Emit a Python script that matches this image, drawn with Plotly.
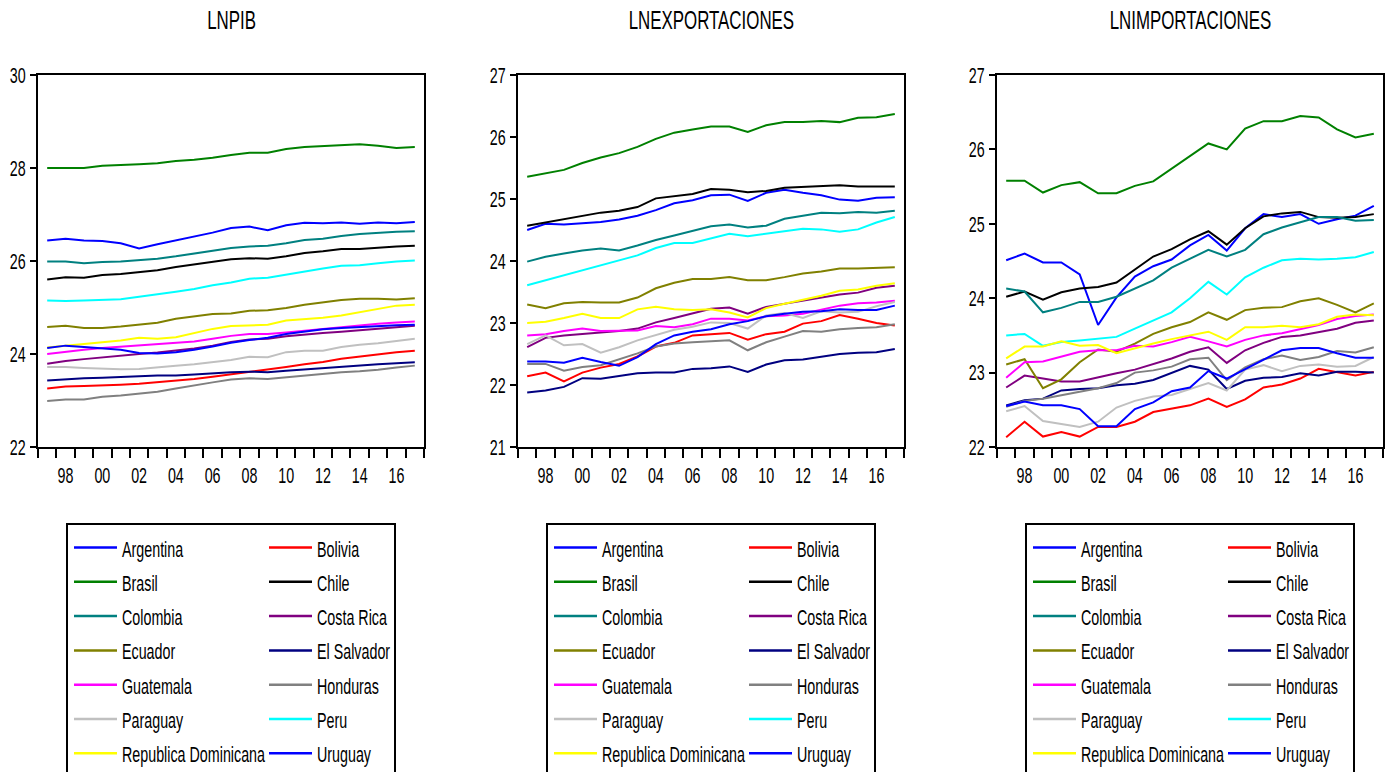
import plotly.graph_objects as go

# ---------------- data ----------------
years = list(range(1997, 2018))
tick_years = [1998, 2000, 2002, 2004, 2006, 2008, 2010, 2012, 2014, 2016]
tick_labels = ["98", "00", "02", "04", "06", "08", "10", "12", "14", "16"]

countries = ["Argentina", "Bolivia", "Brasil", "Chile", "Colombia", "Costa Rica",
             "Ecuador", "El Salvador", "Guatemala", "Honduras", "Paraguay", "Peru",
             "Republica Dominicana", "Uruguay"]
colors = ["#0000FF", "#FF0000", "#008000", "#000000", "#008080", "#800080",
          "#808000", "#000080", "#FF00FF", "#808080", "#C0C0C0", "#00FFFF",
          "#FFFF00", "#0000FF"]

panel_titles = ["LNPIB", "LNEXPORTACIONES", "LNIMPORTACIONES"]
y_ranges = [[22, 30], [21, 27], [22, 27]]
y_dticks = [2, 1, 1]

# LNPIB
pib_argentina = [26.44, 26.48, 26.44, 26.43, 26.38, 26.27, 26.36, 26.44, 26.53, 26.61, 26.71, 26.74, 26.66, 26.77, 26.82, 26.81, 26.83, 26.80, 26.83, 26.81, 26.84]
pib_bolivia = [23.26, 23.30, 23.31, 23.32, 23.34, 23.36, 23.39, 23.42, 23.46, 23.51, 23.56, 23.61, 23.66, 23.72, 23.78, 23.83, 23.90, 23.95, 24.00, 24.04, 24.07]
pib_brasil = [28.00, 28.00, 28.00, 28.05, 28.06, 28.08, 28.10, 28.15, 28.18, 28.22, 28.28, 28.33, 28.33, 28.41, 28.45, 28.47, 28.49, 28.51, 28.48, 28.43, 28.45]
pib_chile = [25.60, 25.65, 25.64, 25.70, 25.72, 25.76, 25.80, 25.87, 25.93, 25.99, 26.04, 26.06, 26.05, 26.10, 26.17, 26.21, 26.26, 26.26, 26.29, 26.31, 26.33]
pib_colombia = [25.99, 25.99, 25.95, 25.98, 25.99, 26.02, 26.05, 26.10, 26.16, 26.22, 26.28, 26.31, 26.33, 26.38, 26.45, 26.48, 26.54, 26.58, 26.61, 26.63, 26.64]
pib_costarica = [23.79, 23.85, 23.89, 23.93, 23.97, 24.00, 24.03, 24.07, 24.12, 24.18, 24.26, 24.31, 24.33, 24.38, 24.42, 24.45, 24.48, 24.51, 24.55, 24.58, 24.61]
pib_ecuador = [24.58, 24.61, 24.56, 24.56, 24.59, 24.63, 24.67, 24.76, 24.81, 24.86, 24.87, 24.93, 24.94, 24.99, 25.06, 25.11, 25.16, 25.19, 25.19, 25.17, 25.20]
pib_elsalvador = [23.43, 23.46, 23.48, 23.49, 23.50, 23.52, 23.54, 23.54, 23.56, 23.59, 23.61, 23.62, 23.61, 23.64, 23.67, 23.70, 23.73, 23.75, 23.78, 23.80, 23.82]
pib_guatemala = [24.00, 24.05, 24.09, 24.13, 24.16, 24.18, 24.21, 24.24, 24.27, 24.33, 24.39, 24.43, 24.43, 24.46, 24.50, 24.53, 24.57, 24.61, 24.65, 24.68, 24.70]
pib_honduras = [22.99, 23.02, 23.02, 23.08, 23.11, 23.15, 23.19, 23.26, 23.33, 23.39, 23.45, 23.48, 23.46, 23.50, 23.54, 23.58, 23.61, 23.63, 23.66, 23.71, 23.75]
pib_paraguay = [23.72, 23.72, 23.70, 23.68, 23.67, 23.68, 23.72, 23.75, 23.78, 23.83, 23.87, 23.94, 23.93, 24.04, 24.07, 24.07, 24.15, 24.20, 24.23, 24.28, 24.33]
pib_peru = [25.15, 25.14, 25.15, 25.17, 25.18, 25.23, 25.28, 25.34, 25.40, 25.48, 25.54, 25.62, 25.64, 25.71, 25.77, 25.84, 25.90, 25.91, 25.95, 25.99, 26.01]
pib_repdom = [24.14, 24.18, 24.22, 24.26, 24.29, 24.35, 24.33, 24.36, 24.45, 24.54, 24.60, 24.62, 24.63, 24.72, 24.75, 24.78, 24.83, 24.90, 24.98, 25.04, 25.06]
pib_uruguay = [24.13, 24.18, 24.15, 24.12, 24.09, 24.02, 24.01, 24.04, 24.09, 24.16, 24.24, 24.30, 24.35, 24.43, 24.48, 24.53, 24.56, 24.58, 24.61, 24.62, 24.63]

# LNEXPORTACIONES
exp_argentina = [24.50, 24.60, 24.59, 24.61, 24.63, 24.67, 24.73, 24.82, 24.93, 24.98, 25.06, 25.07, 24.97, 25.10, 25.15, 25.10, 25.06, 24.99, 24.97, 25.02, 25.03]
exp_bolivia = [22.14, 22.20, 22.06, 22.20, 22.28, 22.34, 22.46, 22.62, 22.68, 22.80, 22.82, 22.84, 22.73, 22.82, 22.86, 22.99, 23.03, 23.13, 23.07, 23.00, 22.96]
exp_brasil = [25.36, 25.41, 25.47, 25.58, 25.67, 25.74, 25.84, 25.97, 26.07, 26.12, 26.17, 26.17, 26.08, 26.19, 26.24, 26.24, 26.26, 26.24, 26.31, 26.32, 26.37]
exp_chile = [24.57, 24.62, 24.67, 24.72, 24.78, 24.81, 24.87, 25.01, 25.04, 25.08, 25.16, 25.15, 25.11, 25.13, 25.18, 25.19, 25.21, 25.22, 25.20, 25.20, 25.20]
exp_colombia = [23.99, 24.07, 24.12, 24.17, 24.20, 24.17, 24.25, 24.34, 24.41, 24.49, 24.56, 24.59, 24.54, 24.57, 24.68, 24.73, 24.78, 24.77, 24.79, 24.78, 24.81]
exp_costarica = [22.61, 22.76, 22.80, 22.82, 22.84, 22.87, 22.91, 23.01, 23.08, 23.15, 23.23, 23.25, 23.15, 23.26, 23.31, 23.37, 23.42, 23.46, 23.49, 23.57, 23.60]
exp_ecuador = [23.30, 23.24, 23.32, 23.34, 23.33, 23.33, 23.41, 23.56, 23.65, 23.71, 23.71, 23.74, 23.69, 23.69, 23.74, 23.80, 23.83, 23.88, 23.88, 23.89, 23.90]
exp_elsalvador = [21.88, 21.91, 21.97, 22.11, 22.10, 22.15, 22.19, 22.20, 22.20, 22.26, 22.27, 22.30, 22.21, 22.33, 22.40, 22.41, 22.46, 22.50, 22.52, 22.53, 22.58]
exp_guatemala = [22.80, 22.82, 22.87, 22.91, 22.87, 22.87, 22.88, 22.95, 22.93, 22.98, 23.07, 23.07, 23.04, 23.11, 23.12, 23.15, 23.22, 23.28, 23.32, 23.33, 23.36]
exp_honduras = [22.34, 22.34, 22.23, 22.29, 22.32, 22.41, 22.51, 22.62, 22.67, 22.69, 22.70, 22.72, 22.56, 22.69, 22.78, 22.87, 22.86, 22.90, 22.92, 22.93, 22.98]
exp_paraguay = [22.66, 22.80, 22.64, 22.66, 22.52, 22.61, 22.72, 22.80, 22.89, 22.94, 23.01, 23.00, 22.91, 23.12, 23.16, 23.08, 23.19, 23.17, 23.18, 23.27, 23.34]
exp_peru = [23.61, 23.69, 23.77, 23.85, 23.93, 24.01, 24.09, 24.21, 24.29, 24.29, 24.36, 24.44, 24.40, 24.44, 24.48, 24.52, 24.51, 24.47, 24.51, 24.62, 24.71]
exp_repdom = [23.00, 23.02, 23.08, 23.15, 23.08, 23.08, 23.22, 23.26, 23.22, 23.21, 23.22, 23.17, 23.09, 23.24, 23.31, 23.37, 23.44, 23.52, 23.54, 23.60, 23.64]
exp_uruguay = [22.38, 22.38, 22.36, 22.44, 22.37, 22.31, 22.45, 22.66, 22.80, 22.86, 22.90, 22.98, 23.03, 23.11, 23.15, 23.18, 23.19, 23.22, 23.21, 23.21, 23.28]

# LNIMPORTACIONES
imp_argentina = [24.51, 24.60, 24.48, 24.48, 24.32, 23.64, 24.01, 24.29, 24.43, 24.52, 24.71, 24.85, 24.64, 24.94, 25.13, 25.09, 25.13, 25.00, 25.06, 25.11, 25.24]
imp_bolivia = [22.13, 22.34, 22.14, 22.20, 22.14, 22.27, 22.27, 22.34, 22.47, 22.51, 22.56, 22.65, 22.54, 22.64, 22.80, 22.84, 22.92, 23.05, 23.01, 22.96, 23.01]
imp_brasil = [25.58, 25.58, 25.42, 25.52, 25.56, 25.41, 25.41, 25.51, 25.57, 25.74, 25.92, 26.08, 26.00, 26.28, 26.38, 26.38, 26.45, 26.43, 26.27, 26.16, 26.21]
imp_chile = [24.02, 24.09, 23.98, 24.08, 24.13, 24.15, 24.21, 24.39, 24.56, 24.66, 24.79, 24.90, 24.72, 24.94, 25.10, 25.14, 25.16, 25.09, 25.08, 25.09, 25.13]
imp_colombia = [24.13, 24.09, 23.81, 23.87, 23.95, 23.95, 24.02, 24.13, 24.24, 24.41, 24.53, 24.65, 24.56, 24.65, 24.86, 24.95, 25.02, 25.09, 25.09, 25.04, 25.05]
imp_costarica = [22.80, 22.96, 22.92, 22.88, 22.88, 22.94, 22.99, 23.04, 23.11, 23.19, 23.28, 23.34, 23.13, 23.30, 23.40, 23.48, 23.50, 23.55, 23.59, 23.67, 23.70]
imp_ecuador = [23.11, 23.18, 22.79, 22.91, 23.14, 23.31, 23.28, 23.39, 23.52, 23.61, 23.68, 23.81, 23.71, 23.84, 23.87, 23.88, 23.96, 24.00, 23.91, 23.81, 23.93]
imp_elsalvador = [22.56, 22.63, 22.65, 22.76, 22.78, 22.79, 22.83, 22.85, 22.90, 22.99, 23.09, 23.04, 22.78, 22.89, 22.93, 22.94, 22.99, 22.96, 23.01, 23.01, 23.00]
imp_guatemala = [22.93, 23.14, 23.15, 23.21, 23.28, 23.30, 23.30, 23.36, 23.35, 23.41, 23.48, 23.42, 23.35, 23.44, 23.50, 23.53, 23.59, 23.64, 23.72, 23.76, 23.78]
imp_honduras = [22.54, 22.62, 22.65, 22.70, 22.74, 22.79, 22.86, 23.00, 23.03, 23.08, 23.18, 23.20, 22.90, 23.07, 23.18, 23.23, 23.17, 23.21, 23.29, 23.27, 23.34]
imp_paraguay = [22.48, 22.55, 22.35, 22.31, 22.27, 22.34, 22.53, 22.62, 22.68, 22.70, 22.78, 22.86, 22.76, 23.04, 23.10, 23.02, 23.09, 23.11, 23.08, 23.09, 23.21]
imp_peru = [23.50, 23.52, 23.36, 23.41, 23.43, 23.45, 23.48, 23.59, 23.70, 23.81, 24.00, 24.22, 24.05, 24.28, 24.41, 24.51, 24.53, 24.52, 24.53, 24.55, 24.62]
imp_repdom = [23.19, 23.35, 23.35, 23.42, 23.36, 23.37, 23.26, 23.33, 23.39, 23.45, 23.50, 23.55, 23.44, 23.61, 23.61, 23.63, 23.61, 23.65, 23.75, 23.78, 23.77]
imp_uruguay = [22.55, 22.61, 22.56, 22.56, 22.51, 22.28, 22.28, 22.51, 22.60, 22.75, 22.80, 23.02, 22.92, 23.05, 23.18, 23.30, 23.33, 23.33, 23.26, 23.20, 23.20]

panel_series = [
    [pib_argentina, pib_bolivia, pib_brasil, pib_chile, pib_colombia, pib_costarica, pib_ecuador,
     pib_elsalvador, pib_guatemala, pib_honduras, pib_paraguay, pib_peru, pib_repdom, pib_uruguay],
    [exp_argentina, exp_bolivia, exp_brasil, exp_chile, exp_colombia, exp_costarica, exp_ecuador,
     exp_elsalvador, exp_guatemala, exp_honduras, exp_paraguay, exp_peru, exp_repdom, exp_uruguay],
    [imp_argentina, imp_bolivia, imp_brasil, imp_chile, imp_colombia, imp_costarica, imp_ecuador,
     imp_elsalvador, imp_guatemala, imp_honduras, imp_paraguay, imp_peru, imp_repdom, imp_uruguay],
]

# ---------------- layout geometry (pixels) ----------------
W, H = 1385, 772
FONT = "Liberation Sans, Arial, sans-serif"
LABEL_SIZE = 22
TITLE_SIZE = 26
panel_left = [38, 518, 997]
panel_width = 386
plot_top, plot_bottom = 75, 447


def px_x(p):
    return p / W


def px_y(p):
    return 1 - p / H


fig = go.Figure()
layout = dict(
    width=W, height=H, autosize=False,
    margin=dict(l=0, r=0, t=0, b=0, pad=0),
    paper_bgcolor="white", plot_bgcolor="white",
    showlegend=False,
    font=dict(family=FONT, size=LABEL_SIZE, color="black"),
)
shapes = []
annotations = []

for p in range(3):
    suffix = "" if p == 0 else str(p + 1)
    for c, name in enumerate(countries):
        fig.add_trace(go.Scatter(
            x=years, y=panel_series[p][c], mode="lines", name=name,
            line=dict(color=colors[c], width=2),
            xaxis="x" + suffix, yaxis="y" + suffix, showlegend=False,
            hoverinfo="skip",
        ))
    left = panel_left[p]
    layout["xaxis" + suffix] = dict(
        domain=[px_x(left), px_x(left + panel_width)],
        range=[1996.5, 2017.5], anchor="y" + suffix, automargin=False,
        tickmode="array", tickvals=tick_years, ticktext=tick_labels,
        ticks="", ticklabelstandoff=8,
        showline=True, linecolor="black", linewidth=2, mirror=True,
        showgrid=False, zeroline=False,
        tickfont=dict(family=FONT, size=LABEL_SIZE, color="black"),
        minor=dict(ticks="outside", tickmode="array",
                   tickvals=[1996.5 + k for k in range(22)],
                   ticklen=9, tickwidth=1.5, tickcolor="black", showgrid=False),
    )
    layout["yaxis" + suffix] = dict(
        domain=[px_y(plot_bottom), px_y(plot_top)],
        range=y_ranges[p], anchor="x" + suffix, dtick=y_dticks[p], automargin=False,
        ticks="outside", ticklen=6, tickwidth=1.5, tickcolor="black",
        showline=True, linecolor="black", linewidth=2, mirror=True,
        showgrid=False, zeroline=False,
        tickfont=dict(family=FONT, size=LABEL_SIZE, color="black"),
    )
    # panel title
    annotations.append(dict(
        x=px_x(left + panel_width / 2), y=px_y(20), xref="paper", yref="paper",
        text=panel_titles[p], showarrow=False, xanchor="center", yanchor="middle",
        font=dict(family=FONT, size=TITLE_SIZE, color="black"),
    ))
    # legend box
    bx = left + 29
    shapes.append(dict(type="rect", xref="paper", yref="paper",
                       x0=px_x(bx), x1=px_x(bx + 328), y0=px_y(524), y1=px_y(790),
                       line=dict(color="black", width=2), fillcolor="rgba(0,0,0,0)"))
    for c, name in enumerate(countries):
        row, col = c // 2, c % 2
        yy = 547.5 + 34.3 * row
        off = 0 if col == 0 else 195
        shapes.append(dict(type="line", xref="paper", yref="paper",
                           x0=px_x(bx + 7 + off), x1=px_x(bx + 50 + off),
                           y0=px_y(yy), y1=px_y(yy),
                           line=dict(color=colors[c], width=2.5)))
        annotations.append(dict(
            x=px_x(bx + 53 + off), y=px_y(yy + 1.5), xref="paper", yref="paper",
            text=name, showarrow=False, xanchor="left", yanchor="middle", align="left",
            font=dict(family=FONT, size=LABEL_SIZE, color="black"),
        ))

layout["shapes"] = shapes
layout["annotations"] = annotations
fig.update_layout(**layout)

# narrow the (tall) lettering horizontally, keeping each label's anchor fixed
post = """
document.body.style.margin='0';
document.querySelectorAll('.main-svg text').forEach(function(t){
  if(!t.textContent) return;
  var s = 0.65;
  var b = t.getBBox();
  var a = t.getAttribute('text-anchor') || 'start';
  var ax = (a === 'middle') ? b.x + b.width/2 : ((a === 'end') ? b.x + b.width : b.x);
  var tr = t.getAttribute('transform') || '';
  t.setAttribute('transform', tr + ' translate(' + ax + ',0) scale(' + s + ',1) translate(' + (-ax) + ',0)');
});
"""

fig.write_html("out.html", post_script=post, config={"displayModeBar": False, "responsive": False})
